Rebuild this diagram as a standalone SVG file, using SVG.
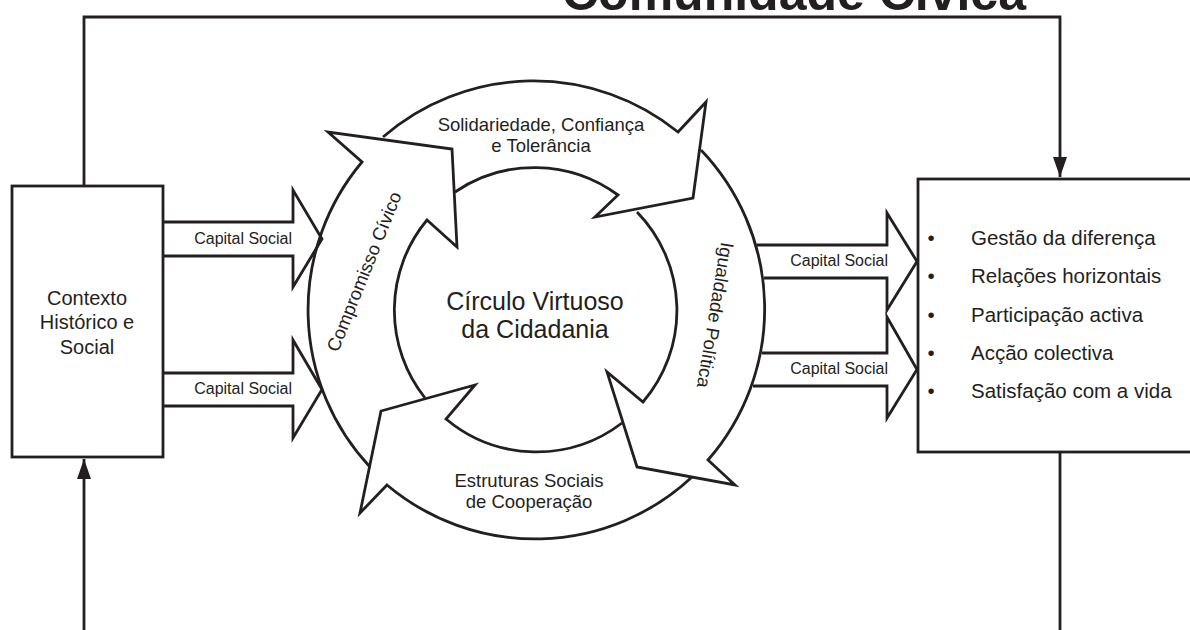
<svg xmlns="http://www.w3.org/2000/svg" width="1190" height="630" viewBox="0 0 1190 630">
<defs>
<style>
.ln{fill:none;stroke:#231f20;stroke-width:2.8;stroke-linejoin:miter;stroke-miterlimit:10}
.t{font-family:"Liberation Sans",Arial,sans-serif;fill:#231f20}
.lab{font-size:18.5px;text-anchor:middle}
.cs{font-size:16px;text-anchor:end}
.box{font-size:20px;text-anchor:middle}
.it{font-size:20.5px}
</style>
<marker id="ah" viewBox="0 0 20 14" refX="20" refY="7" markerWidth="20" markerHeight="14" markerUnits="userSpaceOnUse" orient="auto">
<path d="M0,0 L20,7 L0,14 Z" fill="#231f20"/>
</marker>
</defs>
<rect width="1190" height="630" fill="#fff"/>
<text class="t" x="794" y="10" font-size="50" font-weight="bold" text-anchor="middle">Comunidade Cívica</text>
<g id="connectors">
<path class="ln" d="M84,186 V17 H1060 V177" marker-end="url(#ah)"/>
<path class="ln" d="M84,630 V459" marker-end="url(#ah)"/>
<path class="ln" d="M1060,452 V630"/>
<path class="ln" d="M163,222 H293 V190 L322,239 L293,287 V256 H163"/>
<path class="ln" d="M163,373 H293 V340 L322,389.5 L293,438 V406 H163"/>
<path class="ln" d="M757,245 H887 V213 L917,261.5 L887,310 V278 H764"/>
<path class="ln" d="M762,353 H887 V317 L917,369.5 L887,418 V386 H753"/>
<text class="t cs" x="292" y="244">Capital Social</text>
<text class="t cs" x="292" y="394">Capital Social</text>
<text class="t cs" x="888" y="266">Capital Social</text>
<text class="t cs" x="888" y="374">Capital Social</text>
</g>
<g id="contexto">
<rect class="ln" x="12" y="186" width="151" height="271"/>
<text class="t box" x="87" y="305">Contexto</text>
<text class="t box" x="87" y="329">Histórico e</text>
<text class="t box" x="87" y="354">Social</text>
</g>
<g id="comunidade">
<rect class="ln" x="918" y="179" width="300" height="273"/>
<g class="t it">
<text x="931" y="245" text-anchor="middle">•</text>
<text x="931" y="283" text-anchor="middle">•</text>
<text x="931" y="322" text-anchor="middle">•</text>
<text x="931" y="360" text-anchor="middle">•</text>
<text x="931" y="398" text-anchor="middle">•</text>
<text x="971" y="245">Gestão da diferença</text>
<text x="971" y="283">Relações horizontais</text>
<text x="971" y="322">Participação activa</text>
<text x="971" y="360">Acção colectiva</text>
<text x="971" y="398">Satisfação com a vida</text>
</g>
</g>
<g id="circulo">
<text class="t" x="535" y="310" font-size="25" text-anchor="middle">Círculo Virtuoso</text>
<text class="t" x="535" y="338" font-size="25" text-anchor="middle">da Cidadania</text>
</g>
<g id="solidariedade">
<path class="ln" d="M383,137 A230,230 0 0 1 678,132 L706,102 L693,198 L595,217 L618,195 A141,141 0 0 0 455,192"/>
<text class="t lab" x="541" y="131">Solidariedade, Confiança</text>
<text class="t lab" x="541" y="152">e Tolerância</text>
</g>
<g id="igualdade">
<path class="ln" d="M701,150 A230,230 0 0 1 708,460 L735,485 L637,467 L607,372 L643,402 A141,141 0 0 0 637,212"/>
<text class="t lab" x="709" y="314" transform="rotate(99.5 709 314)">Igualdade Política</text>
</g>
<g id="estruturas">
<path class="ln" d="M692,477 A230,230 0 0 1 387,485 L360,513 L381,411 L475,385 L446,419 A141,141 0 0 0 622,423"/>
<text class="t lab" x="529" y="487">Estruturas Sociais</text>
<text class="t lab" x="529" y="508">de Cooperação</text>
</g>
<g id="compromisso">
<path class="ln" d="M370,467 A230,230 0 0 1 362,162 L328,132 L452,149 L457,247 L427,220 A141,141 0 0 0 425,398"/>
<text class="t lab" x="370" y="274" transform="rotate(-68 370 274)">Compromisso Cívico</text>
</g>
</svg>
